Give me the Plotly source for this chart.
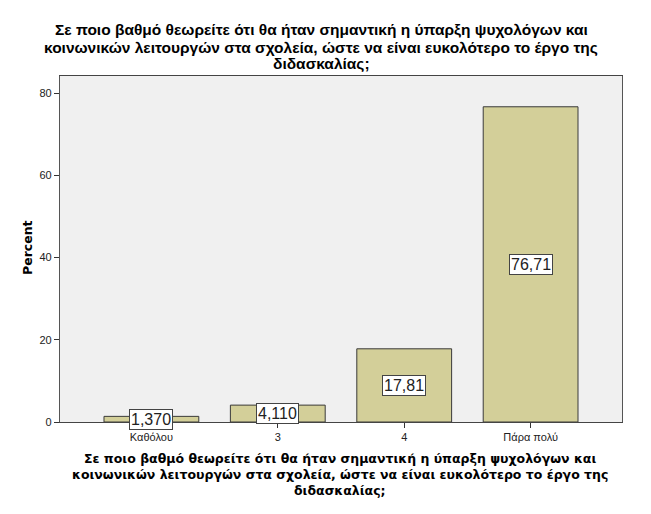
import plotly.graph_objects as go

categories = ["Καθόλου", "3", "4", "Πάρα πολύ"]
percents = [1.370, 4.110, 17.81, 76.71]
value_labels = ["1,370", "4,110", "17,81", "76,71"]
yticks = [0, 20, 40, 60, 80]

title_lines = [
    "Σε ποιο βαθμό θεωρείτε ότι θα ήταν σημαντική η ύπαρξη ψυχολόγων και",
    "κοινωνικών λειτουργών στα σχολεία, ώστε να είναι ευκολότερο το έργο της",
    "διδασκαλίας;",
]

W, H = 651, 514
L, R, T, B = 60, 29, 76, 92
ph = H - T - B
pw = W - L - R

fig = go.Figure()
fig.add_trace(go.Bar(
    x=list(range(len(categories))), y=percents,
    width=0.75,
    marker=dict(color="#d3cf99", line=dict(color="#3a3a3a", width=1)),
    hoverinfo="skip",
))

ann = []
for i, (v, t) in enumerate(zip(percents, value_labels)):
    ann.append(dict(x=i, y=v / 2, xref="x", yref="y", text=t, showarrow=False,
                    font=dict(family="Liberation Sans, Arial", size=16, color="#222"),
                    bgcolor="white", bordercolor="#444", borderwidth=1, borderpad=1))

def py(pix):
    return (H - B - pix) / ph

def px(pix):
    return (pix - L) / pw

for k, line in enumerate(title_lines):
    ann.append(dict(x=px(321), y=py(30 + 17 * k), xref="paper", yref="paper",
                    text=line, showarrow=False, xanchor="center", yanchor="middle",
                    font=dict(family="Liberation Sans, Arial", size=15.5, color="black", weight="bold")))
    ann.append(dict(x=px(340), y=py(458 + 16 * k), xref="paper", yref="paper",
                    text=line, showarrow=False, xanchor="center", yanchor="middle",
                    font=dict(family="DejaVu Sans, Verdana", size=12.5, color="black", weight="bold")))

ann.append(dict(x=px(27), y=py(248), xref="paper", yref="paper",
                text="Percent", textangle=-90, showarrow=False,
                xanchor="center", yanchor="middle",
                font=dict(family="DejaVu Sans, Verdana", size=12.5, color="black", weight="bold")))

fig.update_layout(
    width=W, height=H,
    margin=dict(l=L, r=R, t=T, b=B),
    paper_bgcolor="white", plot_bgcolor="#f0f0f0",
    showlegend=False,
    annotations=ann,
    xaxis=dict(
        range=[-0.723, 3.723],
        tickvals=list(range(len(categories))), ticktext=categories,
        ticks="outside", ticklen=5, tickcolor="#333",
        showgrid=False, zeroline=False,
        showline=True, linecolor="#444", linewidth=1.2, mirror=True,
        tickfont=dict(family="Liberation Sans, Arial", size=11, color="#222"),
    ),
    yaxis=dict(
        range=[0, 84.2],
        tickvals=yticks,
        ticks="outside", ticklen=5, tickcolor="#333",
        showgrid=False, zeroline=False,
        showline=True, linecolor="#555", linewidth=1.2, mirror=True,
        tickfont=dict(family="Liberation Sans, Arial", size=11, color="#222"),
    ),
)

fig.write_html("out.html", config={"displayModeBar": False},
               post_script="document.body.style.margin='0';")
